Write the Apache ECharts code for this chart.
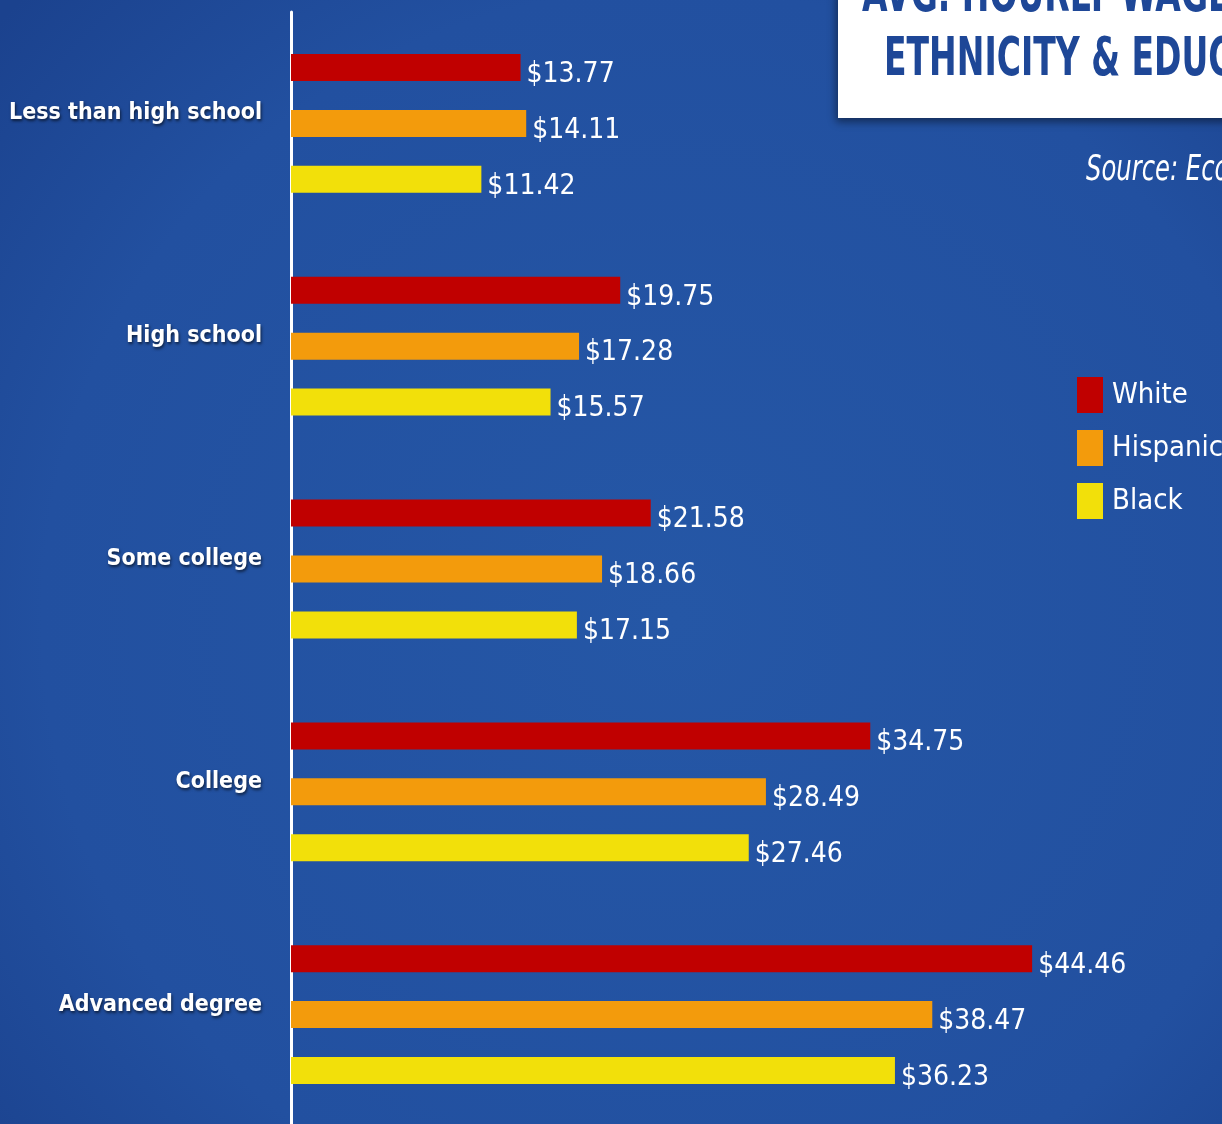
<!DOCTYPE html>
<html>
<head>
<meta charset="utf-8">
<script src="https://cdn.jsdelivr.net/npm/echarts@6/dist/echarts.min.js"></script>
<style>
html,body{margin:0;padding:0;background:#2353a1;}
#chart{width:1222px;height:1124px;}
</style>
</head>
<body>
<div id="chart"></div>
<script>
var categories = ['Less than high school', 'High school', 'Some college', 'College', 'Advanced degree'];
var seriesNames = ['White', 'Hispanic', 'Black'];
var white = [13.77, 19.75, 21.58, 34.75, 44.46];
var hispanic = [14.11, 17.28, 18.66, 28.49, 38.47];
var black = [11.42, 15.57, 17.15, 27.46, 36.23];
var colors = ['#c00000', '#f39b0c', '#f2e00a'];
var titleLines = ['AVG. HOURLY WAGE BY', 'ETHNICITY & EDUCATION'];
var sourceText = 'Source: Economic Policy Institute';

var chart = echarts.init(document.getElementById('chart'), null, {renderer: 'canvas'});

var narrow = '"DejaVu Sans Condensed", "Liberation Sans Narrow", sans-serif';

function makeSeries(name, data, color) {
  return {
    name: name,
    type: 'bar',
    data: data,
    barWidth: 27,
    barGap: '107%',
    itemStyle: {color: color},
    label: {
      show: true,
      position: 'right',
      distance: 6,
      offset: [0, 7],
      color: '#ffffff',
      fontFamily: narrow,
      fontSize: 28,
      formatter: function (p) { return '$' + p.value.toFixed(2); }
    },
    z: 3
  };
}

var labelShadow = {
  color: '#ffffff',
  fontFamily: narrow,
  fontWeight: 'bold',
  fontSize: 23,
  lineHeight: 28,
  textShadowColor: 'rgba(0,0,0,0.6)',
  textShadowBlur: 3,
  textShadowOffsetX: 1,
  textShadowOffsetY: 2
};

var option = {
  backgroundColor: {
    type: 'radial', x: 0.55, y: 0.55, r: 0.8,
    colorStops: [
      {offset: 0, color: '#2557a6'},
      {offset: 0.7, color: '#2250a0'},
      {offset: 1, color: '#1b428e'}
    ]
  },
  animation: false,
  grid: {left: 291, right: 0, top: 12, height: 1114, containLabel: false, outerBoundsMode: 'none'},
  xAxis: {
    type: 'value', min: 0, max: 55.85,
    show: false
  },
  yAxis: {
    type: 'category',
    data: categories,
    inverse: true,
    axisLine: {show: true, lineStyle: {color: '#ffffff', width: 3}},
    axisTick: {show: false},
    axisLabel: {
      margin: 29,
      formatter: function (v) { return '{a|' + v + '}\n{b|}'; },
      rich: {
        a: labelShadow,
        b: {height: 20, lineHeight: 20}
      }
    }
  },
  legend: {
    orient: 'vertical',
    left: 1077, top: 377,
    padding: 0,
    itemWidth: 26, itemHeight: 36, itemGap: 17,
    icon: 'rect',
    data: seriesNames,
    textStyle: {color: '#ffffff', fontFamily: narrow, fontSize: 29, padding: [8, 0, 0, 4]}
  },
  series: [
    makeSeries(seriesNames[0], white, colors[0]),
    makeSeries(seriesNames[1], hispanic, colors[1]),
    makeSeries(seriesNames[2], black, colors[2])
  ],
  graphic: [
    {
      type: 'rect',
      shape: {x: 838, y: -10, width: 400, height: 128},
      style: {fill: '#ffffff', shadowColor: 'rgba(0,0,0,0.45)', shadowBlur: 8, shadowOffsetX: -2, shadowOffsetY: 4},
      z: 10
    },
    {
      type: 'text', x: 862, y: -30, z: 11, scaleX: 0.68,
      style: {text: titleLines[0], fill: '#1e4797', font: 'bold 54px "DejaVu Sans Condensed", sans-serif'}
    },
    {
      type: 'text', x: 884, y: 34, z: 11, scaleX: 0.68,
      style: {text: titleLines[1], fill: '#1e4797', font: 'bold 54px "DejaVu Sans Condensed", sans-serif'}
    },
    {
      type: 'text', x: 1086, y: 153, z: 11, scaleX: 0.75,
      style: {text: sourceText, fill: '#ffffff', font: 'italic 36px "DejaVu Sans Condensed", sans-serif'}
    }
  ]
};
chart.setOption(option);
</script>
</body>
</html>
